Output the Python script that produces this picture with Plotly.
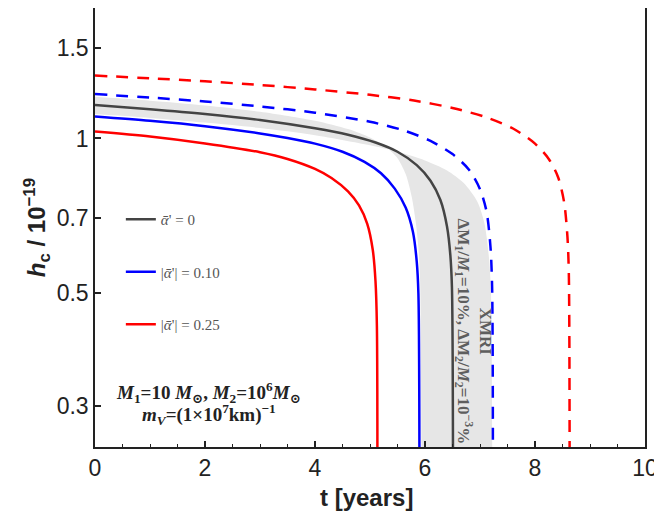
import plotly.graph_objects as go

# ---- data (t in years, h_c in units of 1e-19) ----
t_black = [0, 1, 2, 3, 4, 4.6, 5.1, 5.5, 5.85, 6.1, 6.28, 6.4, 6.46, 6.49, 6.51]
h_black = [1.162, 1.141, 1.117, 1.087, 1.047, 1.017, 0.982, 0.942, 0.887, 0.827, 0.758, 0.673, 0.593, 0.511, 0.2]

t_blue = [0, 1, 2, 3, 3.5, 4, 4.5, 4.9, 5.2, 5.45, 5.65, 5.78, 5.85, 5.88, 5.90]
h_blue = [1.104, 1.083, 1.057, 1.023, 1.002, 0.977, 0.942, 0.900, 0.855, 0.798, 0.732, 0.657, 0.574, 0.498, 0.2]

t_red = [0, 1, 2, 3, 3.5, 4, 4.3, 4.6, 4.8, 4.95, 5.05, 5.1, 5.125, 5.135]
h_red = [1.032, 1.009, 0.978, 0.940, 0.912, 0.872, 0.837, 0.788, 0.740, 0.681, 0.606, 0.526, 0.431, 0.2]

t_blue_dash = [0, 1, 2, 3, 4, 5, 5.6, 6.1, 6.5, 6.8, 7.0, 7.12, 7.19, 7.22, 7.235]
h_blue_dash = [1.221, 1.202, 1.181, 1.155, 1.123, 1.078, 1.038, 0.989, 0.932, 0.869, 0.796, 0.719, 0.615, 0.514, 0.2]

t_red_dash = [0, 1, 2, 3, 4, 5, 5.8, 6.5, 7.1, 7.6, 8.0, 8.25, 8.42, 8.53, 8.59, 8.615, 8.63]
h_red_dash = [1.327, 1.311, 1.293, 1.272, 1.247, 1.217, 1.186, 1.147, 1.101, 1.046, 0.977, 0.912, 0.840, 0.750, 0.642, 0.545, 0.2]

# XMRI uncertainty band: boundary A (upper -> left edge), boundary B (lower -> right edge)
t_band_a = [0, 1, 2, 3, 4, 4.6, 5.0, 5.3, 5.5, 5.65, 5.76, 5.83, 5.88, 5.91, 5.94, 5.945]
h_band_a = [1.206, 1.185, 1.160, 1.128, 1.083, 1.043, 1.004, 0.960, 0.915, 0.851, 0.768, 0.689, 0.611, 0.530, 0.2, 0.05]
t_band_b = [0, 1, 2, 3, 4, 5, 5.5, 6.0, 6.4, 6.7, 6.95, 7.08, 7.16, 7.2, 7.225, 7.23]
h_band_b = [1.116, 1.097, 1.074, 1.048, 1.015, 0.970, 0.942, 0.906, 0.866, 0.819, 0.753, 0.683, 0.589, 0.496, 0.2, 0.05]

x_ticks = [0, 2, 4, 6, 8, 10]
y_ticks = [0.3, 0.5, 0.7, 1, 1.5]
y_tick_labels = ["0.3", "0.5", "0.7", "1", "1.5"]

legend_labels = ["<i>ᾱ</i>' = 0", "|<i>ᾱ</i>'| = 0.10", "|<i>ᾱ</i>'| = 0.25"]

BLACK = "#444444"
BLUE = "#0000ff"
RED = "#ff0000"
SM = 0.8

fig = go.Figure()

# band polygon
fig.add_trace(go.Scatter(
    x=t_band_a + t_band_b[::-1], y=h_band_a + h_band_b[::-1],
    fill="toself", fillcolor="rgb(230,230,230)", line=dict(width=0, shape="spline", smoothing=SM),
    mode="lines", showlegend=False, hoverinfo="skip"))

fig.add_trace(go.Scatter(x=t_red_dash, y=h_red_dash, mode="lines", showlegend=False,
                         line=dict(color=RED, width=2.5, dash="12px,9px", shape="spline", smoothing=SM)))
fig.add_trace(go.Scatter(x=t_blue_dash, y=h_blue_dash, mode="lines", showlegend=False,
                         line=dict(color=BLUE, width=2.5, dash="12px,9px", shape="spline", smoothing=SM)))

for tt, hh, col, lab in [(t_black, h_black, BLACK, legend_labels[0]),
                         (t_blue, h_blue, BLUE, legend_labels[1]),
                         (t_red, h_red, RED, legend_labels[2])]:
    fig.add_trace(go.Scatter(x=tt, y=hh, mode="lines", name=lab, legendgroup=lab,
                             line=dict(color=col, width=2.5, shape="spline", smoothing=SM)))

serif = "Liberation Serif, DejaVu Serif, serif"
sans = "Liberation Sans, Arial, sans-serif"

fig.add_annotation(
    x=0.688, y=0.262, xref="paper", yref="paper", xanchor="center", yanchor="middle",
    textangle=90, showarrow=False,
    text="<b>XMRI<br>ΔM<sub>1</sub>/<i>M</i><sub>1</sub>=10%, ΔM<sub>2</sub>/<i>M</i><sub>2</sub>=10<sup>−3</sup>%</b>",
    font=dict(family=serif, size=17, color="#5e5e5e"), align="center")

fig.add_annotation(
    x=0.207, y=0.125, xref="paper", yref="paper", xanchor="center", yanchor="middle", showarrow=False,
    text="<b><i>M</i><sub>1</sub>=10 <i>M</i><sub>⊙</sub>, <i>M</i><sub>2</sub>=10<sup>6</sup><i>M</i><sub>⊙</sub></b>",
    font=dict(family=serif, size=19, color="#222222"))
fig.add_annotation(
    x=0.207, y=0.073, xref="paper", yref="paper", xanchor="center", yanchor="middle", showarrow=False,
    text="<b><i>m<sub>V</sub></i>=(1×10<sup>7</sup>km)<sup>−1</sup></b>",
    font=dict(family=serif, size=19, color="#222222"))

# axis titles
fig.add_annotation(
    x=0.4945, y=-0.114, xref="paper", yref="paper", xanchor="center", yanchor="middle", showarrow=False,
    text="<b>t [years]</b>", font=dict(family=sans, size=24, color="#222"))
fig.add_annotation(
    x=-0.105, y=0.499, xref="paper", yref="paper", xanchor="center", yanchor="middle", showarrow=False,
    textangle=-90,
    text="<b><i>h</i><sub>c</sub> / 10<sup>−19</sup></b>", font=dict(family=sans, size=24, color="#222"))

fig.update_layout(
    width=654, height=510,
    margin=dict(l=87, r=17, t=0, b=71, autoexpand=False),
    paper_bgcolor="white", plot_bgcolor="white",
    legend=dict(x=0.047, y=0.556, xanchor="left", yanchor="top",
                font=dict(family=serif, size=15, color="#555555"),
                bgcolor="rgba(0,0,0,0)", tracegroupgap=30, traceorder="grouped"),
    xaxis=dict(range=[0, 10], tickvals=x_ticks, ticks="inside", ticklen=6, tickwidth=1.5,
               tickcolor="#222", showgrid=False, zeroline=False, automargin=False,
               showline=True, linecolor="#222", linewidth=1.5, mirror=True,
               minor=dict(dtick=0.5, ticks="inside", ticklen=3, tickwidth=1.2, tickcolor="#222"),
               tickfont=dict(family=sans, size=23, color="#222")),
    yaxis=dict(type="log", range=[-0.603, 0.255], tickvals=y_ticks, ticktext=y_tick_labels,
               ticks="inside", ticklen=6, tickwidth=1.5, tickcolor="#222",
               showgrid=False, zeroline=False, automargin=False,
               showline=True, linecolor="#222", linewidth=1.5, mirror=True,
               tickfont=dict(family=sans, size=23, color="#222")),
)

fig.write_html("out.html")
